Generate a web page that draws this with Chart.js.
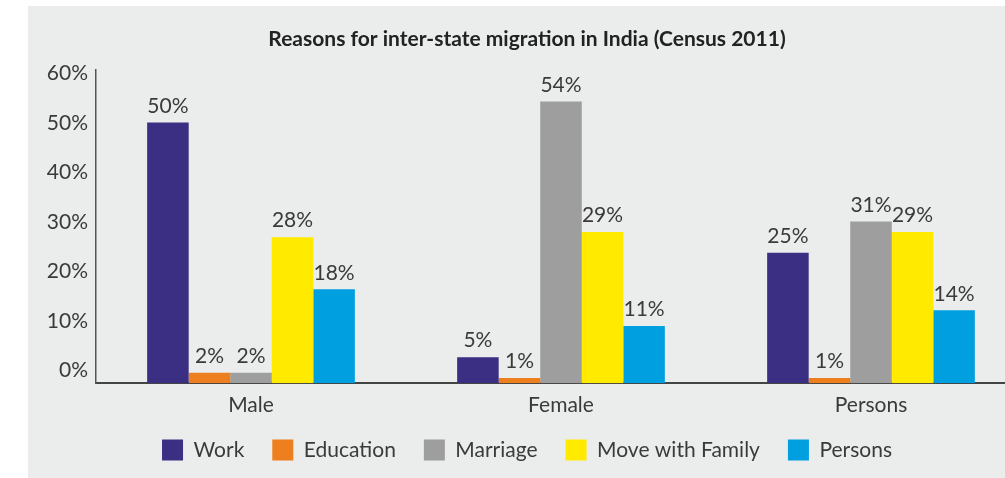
<!DOCTYPE html>
<html>
<head>
<meta charset="utf-8">
<script src="https://cdn.jsdelivr.net/npm/chart.js@4/dist/chart.umd.min.js"></script>
<style>
    html, body { margin: 0; padding: 0; background: #fff; overflow: hidden; width: 1005px; height: 478px; }
    #wrap { position: absolute; left: 28px; top: 6px; width: 1004px; height: 482px; background: #ebecec; }
</style>
</head>
<body>
<div id="wrap"><canvas id="myChart"></canvas></div>
<script>
    var categories = ['Male', 'Female', 'Persons'];
    var work = [50, 5, 25];
    var education = [2, 1, 1];
    var marriage = [2, 54, 31];
    var moveWithFamily = [28, 29, 29];
    var persons = [18, 11, 14];
    var yTicks = [0, 10, 20, 30, 40, 50, 60];

    var fontFamily = 'Lato, "Liberation Sans", sans-serif';
    var textColor = '#3a3a3a';

    // value labels above each bar
    var barLabels = {
        id: 'barLabels',
        afterLayout: function (chart) {
            // pull the legend up closer to the axis labels
            chart.legend.top -= 15;
            chart.legend.bottom -= 15;
        },
        afterDatasetsDraw: function (chart) {
            var ctx = chart.ctx;
            ctx.save();
            ctx.font = '21px ' + fontFamily;
            ctx.fillStyle = textColor;
            ctx.textAlign = 'center';
            ctx.textBaseline = 'bottom';
            chart.data.datasets.forEach(function (ds, i) {
                chart.getDatasetMeta(i).data.forEach(function (bar, j) {
                    ctx.fillText(ds.data[j] + '%', bar.x, bar.y - 6);
                });
            });
            ctx.restore();
        }
    };

    var data = {
        labels: categories,
        datasets: [
            { label: 'Work', data: work, backgroundColor: '#3a2f82' },
            { label: 'Education', data: education, backgroundColor: '#ee7f1e' },
            { label: 'Marriage', data: marriage, backgroundColor: '#9d9e9d' },
            { label: 'Move with Family', data: moveWithFamily, backgroundColor: '#ffea00' },
            { label: 'Persons', data: persons, backgroundColor: '#00a0e0' }
        ]
    };

    var config = {
        type: 'bar',
        data: data,
        options: {
            responsive: true,
            maintainAspectRatio: false,
            animation: false,
            categoryPercentage: 0.67,
            barPercentage: 1,
            layout: { padding: { left: 0, right: 6, top: 0, bottom: 2.5 } },
            plugins: {
                tooltip: { enabled: false },
                title: {
                    display: true,
                    text: 'Reasons for inter-state migration in India (Census 2011)',
                    color: '#222',
                    font: { family: fontFamily, size: 21, weight: 'bold' },
                    padding: { top: 21, bottom: 18 }
                },
                legend: {
                    position: 'bottom',
                    labels: {
                        boxWidth: 21,
                        boxHeight: 21,
                        padding: 28,
                        color: textColor,
                        font: { family: fontFamily, size: 21 }
                    }
                }
            },
            scales: {
                x: {
                    grid: { display: false, drawTicks: false },
                    border: { display: true, color: '#444', width: 2 },
                    ticks: { color: textColor, padding: 9, font: { family: fontFamily, size: 21 } }
                },
                y: {
                    display: false,
                    min: 0,
                    max: 60
                },
                yLabels: {
                    type: 'linear',
                    position: 'left',
                    min: -2.54,
                    max: 60.67,
                    grid: { display: false, drawTicks: false },
                    border: { display: true, color: '#555', width: 1.5 },
                    afterBuildTicks: function (axis) {
                        axis.ticks = yTicks.map(function (v) { return { value: v }; });
                    },
                    afterFit: function (axis) { axis.width = 68; },
                    ticks: {
                        padding: 8,
                        color: textColor,
                        font: { family: fontFamily, size: 21 },
                        callback: function (v) { return v + '%'; }
                    }
                }
            }
        },
        plugins: [barLabels]
    };

    var myChart = new Chart(
        document.getElementById('myChart').getContext('2d'),
        config
    );
</script>
</body>
</html>
